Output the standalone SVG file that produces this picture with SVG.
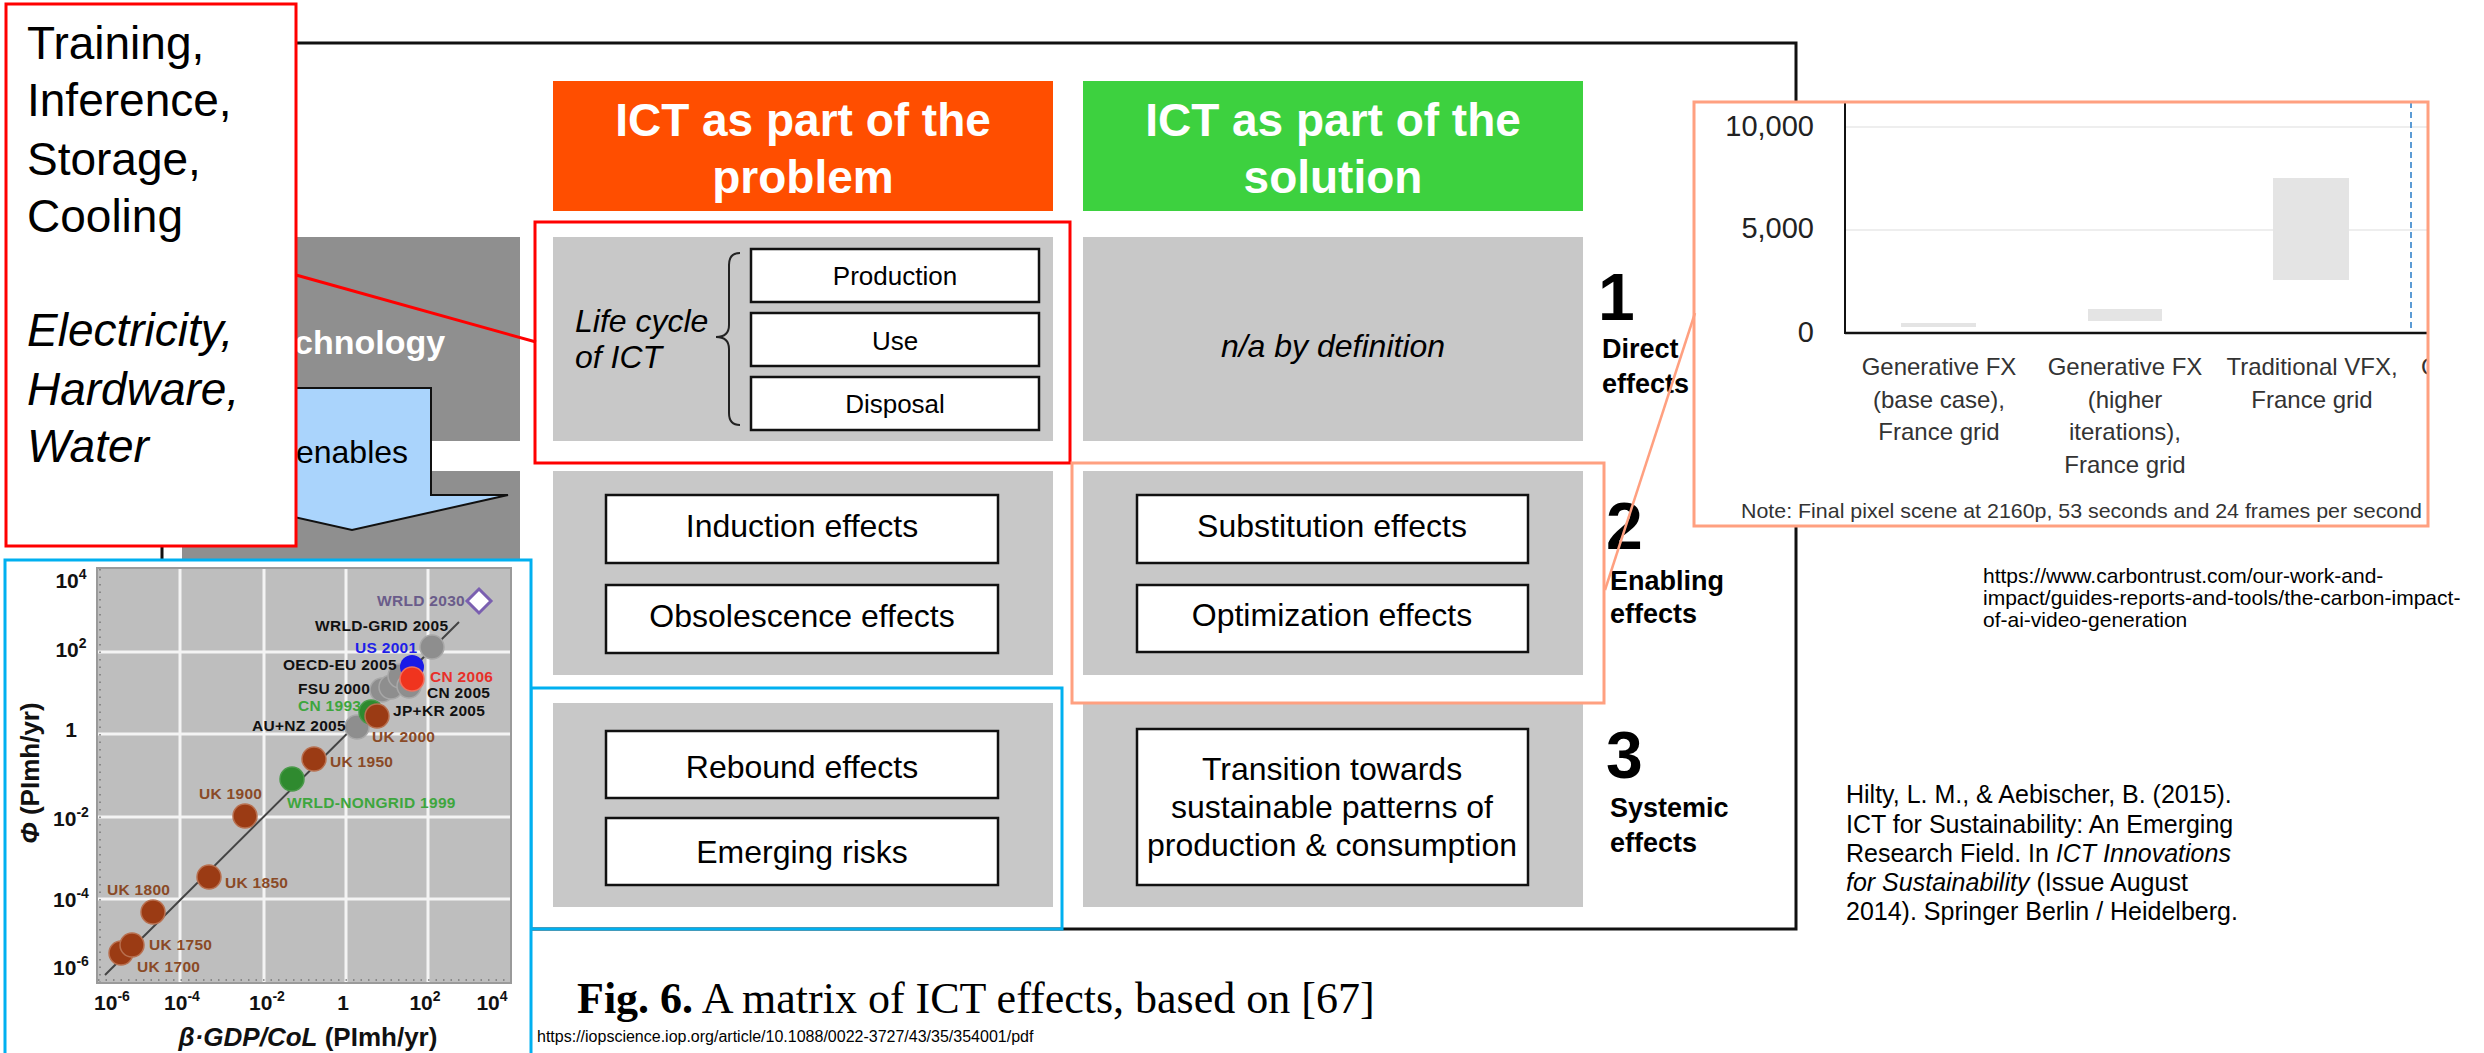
<svg xmlns="http://www.w3.org/2000/svg" width="2484" height="1053" viewBox="0 0 2484 1053">
<style>
.s{font-family:"Liberation Sans",Arial,Helvetica,sans-serif}
.b{font-weight:bold}
.i{font-style:italic}
.serif{font-family:"Liberation Serif","Times New Roman",serif}
.cell{fill:#C8C8C8}
.ibox{fill:#FFFFFF;stroke:#111111;stroke-width:2.5}
.boxt{font-family:"Liberation Sans",Arial,sans-serif;font-size:32px;fill:#000;text-anchor:middle}
.lct{font-family:"Liberation Sans",Arial,sans-serif;font-size:26px;fill:#000;text-anchor:middle}
.hdr{font-family:"Liberation Sans",Arial,sans-serif;font-size:46px;font-weight:bold;fill:#FFFFFF;text-anchor:middle}
.rown{font-family:"Liberation Sans",Arial,sans-serif;font-size:66px;font-weight:bold;fill:#000}
.rowl{font-family:"Liberation Sans",Arial,sans-serif;font-size:27px;font-weight:bold;fill:#000}
.dot{stroke-width:1.5}
.lab{font-family:"Liberation Sans",Arial,sans-serif;font-size:15.5px;font-weight:bold;letter-spacing:0.3px}
.tick{font-family:"Liberation Sans",Arial,sans-serif;font-size:21px;font-weight:bold;fill:#111}
.cat{font-family:"Liberation Sans",Arial,sans-serif;font-size:24px;fill:#333;text-anchor:middle}
.cats{font-family:"Liberation Sans",Arial,sans-serif;font-size:24px;fill:#333;text-anchor:start}
.yl{font-family:"Liberation Sans",Arial,sans-serif;font-size:29px;fill:#222;text-anchor:end}
.ref{font-family:"Liberation Sans",Arial,sans-serif;fill:#000}
</style>
<defs>
<clipPath id="barclip"><rect x="1694" y="102" width="734" height="424"/></clipPath>
</defs>

<!-- outer frame -->
<rect id="frame" x="162" y="43" width="1634" height="886" fill="none" stroke="#111" stroke-width="3"/>

<!-- headers -->
<g id="hdr-problem">
<rect x="553" y="81" width="500" height="130" fill="#FF4E00"/>
<text class="hdr" x="803" y="136">ICT as part of the</text>
<text class="hdr" x="803" y="193">problem</text>
</g>
<g id="hdr-solution">
<rect x="1083" y="81" width="500" height="130" fill="#3DD13F"/>
<text class="hdr" x="1333" y="136">ICT as part of the</text>
<text class="hdr" x="1333" y="193">solution</text>
</g>

<!-- technology column -->
<g id="technology">
<rect x="182" y="237" width="338" height="204" fill="#8F8F8F"/>
<rect x="182" y="471" width="338" height="204" fill="#8F8F8F"/>
<text class="s b" x="351" y="354" font-size="34" fill="#FFFFFF" text-anchor="middle">Technology</text>
</g>
<g id="enables-arrow">
<polygon points="273,388 431,388 431,495 508,495 352,530 196,495 273,495" fill="#AAD4FC" stroke="#111" stroke-width="2"/>
<text class="s" x="352" y="463" font-size="32" fill="#000" text-anchor="middle">enables</text>
</g>

<!-- row 1 -->
<g id="cell-lifecycle">
<rect class="cell" x="553" y="237" width="500" height="204"/>
<text class="s i" x="575" y="332" font-size="32">Life cycle</text>
<text class="s i" x="575" y="368" font-size="32">of ICT</text>
<path d="M740,253 Q729,253 729,265 L729,325 Q729,337 716,337 Q729,337 729,349 L729,413 Q729,425 740,425" fill="none" stroke="#222" stroke-width="2"/>
</g>
<g id="box-production"><rect class="ibox" x="751" y="249" width="288" height="53"/><text class="lct" x="895" y="285">Production</text></g>
<g id="box-use"><rect class="ibox" x="751" y="313" width="288" height="53"/><text class="lct" x="895" y="350">Use</text></g>
<g id="box-disposal"><rect class="ibox" x="751" y="377" width="288" height="53"/><text class="lct" x="895" y="413">Disposal</text></g>

<g id="cell-na">
<rect class="cell" x="1083" y="237" width="500" height="204"/>
<text class="s i" x="1333" y="357" font-size="32" text-anchor="middle">n/a by definition</text>
</g>

<!-- row 2 -->
<g id="cell-row2-left"><rect class="cell" x="553" y="471" width="500" height="204"/></g>
<g id="box-induction"><rect class="ibox" x="606" y="495" width="392" height="68"/><text class="boxt" x="802" y="537">Induction effects</text></g>
<g id="box-obsolescence"><rect class="ibox" x="606" y="585" width="392" height="68"/><text class="boxt" x="802" y="627">Obsolescence effects</text></g>
<g id="cell-row2-right"><rect class="cell" x="1083" y="471" width="500" height="204"/></g>
<g id="box-substitution"><rect class="ibox" x="1137" y="495" width="391" height="68"/><text class="boxt" x="1332" y="537">Substitution effects</text></g>
<g id="box-optimization"><rect class="ibox" x="1137" y="585" width="391" height="67"/><text class="boxt" x="1332" y="626">Optimization effects</text></g>

<!-- row 3 -->
<g id="cell-row3-left"><rect class="cell" x="553" y="703" width="500" height="204"/></g>
<g id="box-rebound"><rect class="ibox" x="606" y="731" width="392" height="67"/><text class="boxt" x="802" y="778">Rebound effects</text></g>
<g id="box-emerging"><rect class="ibox" x="606" y="818" width="392" height="67"/><text class="boxt" x="802" y="863">Emerging risks</text></g>
<g id="cell-row3-right"><rect class="cell" x="1083" y="703" width="500" height="204"/></g>
<g id="box-transition"><rect class="ibox" x="1137" y="729" width="391" height="156"/>
<text class="boxt" x="1332" y="780">Transition towards</text>
<text class="boxt" x="1332" y="818">sustainable patterns of</text>
<text class="boxt" x="1332" y="856">production &amp; consumption</text></g>

<!-- row labels -->
<g id="label-direct"><text class="rown" x="1598" y="320">1</text><text class="rowl" x="1602" y="358">Direct</text><text class="rowl" x="1602" y="393">effects</text></g>
<g id="label-enabling"><text class="rown" x="1606" y="549">2</text><text class="rowl" x="1610" y="590">Enabling</text><text class="rowl" x="1610" y="623">effects</text></g>
<g id="label-systemic"><text class="rown" x="1606" y="778">3</text><text class="rowl" x="1610" y="817">Systemic</text><text class="rowl" x="1610" y="852">effects</text></g>

<!-- highlight frames -->
<rect id="hl-red" x="535" y="222" width="535" height="241" fill="none" stroke="#FF0000" stroke-width="3"/>
<rect id="hl-salmon" x="1072" y="463" width="532" height="240" fill="none" stroke="#FFA080" stroke-width="3"/>
<rect id="hl-blue" x="531" y="688" width="531" height="241" fill="none" stroke="#00B0F0" stroke-width="3"/>

<!-- scatter chart -->
<g id="scatter-chart">
<rect x="5" y="560" width="526" height="500" fill="#FFFFFF" stroke="#00B0F0" stroke-width="3"/>
<rect x="97" y="568" width="414" height="415" fill="#BEBEBE" stroke="#9A9A9A" stroke-width="2"/>
<g stroke="#F4F4F4" stroke-width="3">
<line x1="180" y1="569" x2="180" y2="982"/><line x1="264" y1="569" x2="264" y2="982"/>
<line x1="346" y1="569" x2="346" y2="982"/><line x1="428" y1="569" x2="428" y2="982"/>
<line x1="98" y1="652" x2="510" y2="652"/><line x1="98" y1="734" x2="510" y2="734"/>
<line x1="98" y1="817" x2="510" y2="817"/><line x1="98" y1="899" x2="510" y2="899"/>
</g>
<g stroke="#777" stroke-width="1.5">
<line x1="98" y1="980" x2="510" y2="980" stroke-dasharray="1.5 6"/>
<line x1="100" y1="569" x2="100" y2="982" stroke-dasharray="1.5 6"/>
</g>
<line x1="105" y1="975" x2="459" y2="622" stroke="#444" stroke-width="2"/>
<g class="dot" stroke="#A8A8A8">
<circle cx="357" cy="727" r="12" fill="#8E8E8E"/>
<circle cx="382" cy="690" r="12" fill="#8E8E8E"/>
<circle cx="391" cy="687" r="12" fill="#8E8E8E"/>
<circle cx="400" cy="676" r="12" fill="#8E8E8E"/>
<circle cx="409" cy="686" r="12" fill="#8E8E8E"/>
<circle cx="432" cy="647" r="12" fill="#8E8E8E"/>
</g>
<circle cx="412" cy="667" r="12" fill="#1A1AE6"/>
<circle cx="412" cy="679" r="12" fill="#F0341E" stroke="#F07060" stroke-width="1.5"/>
<g class="dot" stroke="#4A9A4A">
<circle cx="292" cy="779" r="12" fill="#2F8A2F"/>
<circle cx="371" cy="712" r="12" fill="#2F8A2F"/>
</g>
<g class="dot" stroke="#B87050">
<circle cx="121" cy="953" r="12" fill="#9B3B14"/>
<circle cx="132" cy="945" r="12" fill="#9B3B14"/>
<circle cx="153" cy="912" r="12" fill="#9B3B14"/>
<circle cx="209" cy="877" r="12" fill="#9B3B14"/>
<circle cx="245" cy="816" r="12" fill="#9B3B14"/>
<circle cx="314" cy="759" r="12" fill="#9B3B14"/>
<circle cx="377" cy="716" r="12" fill="#9B3B14"/>
</g>
<polygon points="479,589 491,601 479,613 467,601" fill="#FFFFFF" stroke="#7A5FB0" stroke-width="3"/>
<text class="lab" x="377" y="606" fill="#6A5C8A">WRLD 2030</text>
<text class="lab" x="315" y="631" fill="#111">WRLD-GRID 2005</text>
<text class="lab" x="355" y="653" fill="#1F1FE8">US 2001</text>
<text class="lab" x="283" y="670" fill="#111">OECD-EU 2005</text>
<text class="lab" x="430" y="682" fill="#E8302A">CN 2006</text>
<text class="lab" x="298" y="694" fill="#111">FSU 2000</text>
<text class="lab" x="427" y="698" fill="#111">CN 2005</text>
<text class="lab" x="298" y="711" fill="#3EA63E">CN 1993</text>
<text class="lab" x="393" y="716" fill="#111">JP+KR 2005</text>
<text class="lab" x="252" y="731" fill="#111">AU+NZ 2005</text>
<text class="lab" x="372" y="742" fill="#8A4A26">UK 2000</text>
<text class="lab" x="330" y="767" fill="#8A4A26">UK 1950</text>
<text class="lab" x="199" y="799" fill="#8A4A26">UK 1900</text>
<text class="lab" x="287" y="808" fill="#3EA63E">WRLD-NONGRID 1999</text>
<text class="lab" x="225" y="888" fill="#8A4A26">UK 1850</text>
<text class="lab" x="107" y="895" fill="#8A4A26">UK 1800</text>
<text class="lab" x="149" y="950" fill="#8A4A26">UK 1750</text>
<text class="lab" x="137" y="972" fill="#8A4A26">UK 1700</text>
<g class="tick" text-anchor="middle">
<text x="71" y="588">10<tspan font-size="14" dy="-9">4</tspan></text>
<text x="71" y="657">10<tspan font-size="14" dy="-9">2</tspan></text>
<text x="71" y="737">1</text>
<text x="71" y="826">10<tspan font-size="14" dy="-9">-2</tspan></text>
<text x="71" y="907">10<tspan font-size="14" dy="-9">-4</tspan></text>
<text x="71" y="975">10<tspan font-size="14" dy="-9">-6</tspan></text>
<text x="112" y="1010">10<tspan font-size="14" dy="-9">-6</tspan></text>
<text x="182" y="1010">10<tspan font-size="14" dy="-9">-4</tspan></text>
<text x="267" y="1010">10<tspan font-size="14" dy="-9">-2</tspan></text>
<text x="343" y="1010">1</text>
<text x="425" y="1010">10<tspan font-size="14" dy="-9">2</tspan></text>
<text x="492" y="1010">10<tspan font-size="14" dy="-9">4</tspan></text>
</g>
<text class="s b" font-size="26" fill="#111" text-anchor="middle" transform="translate(39,773) rotate(-90)"><tspan font-style="italic">Φ</tspan> (PImh/yr)</text>
<text class="s b" x="308" y="1046" font-size="26" fill="#111" text-anchor="middle"><tspan font-style="italic">β·GDP/CoL</tspan> (PImh/yr)</text>
</g>

<!-- bar chart -->
<g id="bar-chart">
<rect x="1694" y="102" width="734" height="424" fill="#FFFFFF"/>
<g clip-path="url(#barclip)">
<line x1="1845" y1="127" x2="2428" y2="127" stroke="#EEEEEE" stroke-width="2"/>
<line x1="1845" y1="230" x2="2428" y2="230" stroke="#EEEEEE" stroke-width="2"/>
<rect x="1901" y="323" width="75" height="4" fill="#E4E4E4"/>
<rect x="2088" y="309" width="74" height="12" fill="#E4E4E4"/>
<rect x="2273" y="178" width="76" height="102" fill="#E4E4E4"/>
<line x1="2411" y1="102" x2="2411" y2="333" stroke="#5B9BD5" stroke-width="2" stroke-dasharray="6 4"/>
<line x1="1845" y1="102" x2="1845" y2="334" stroke="#111" stroke-width="2"/>
<line x1="1845" y1="333" x2="2428" y2="333" stroke="#111" stroke-width="2.5"/>
<text class="yl" x="1814" y="136">10,000</text>
<text class="yl" x="1814" y="238">5,000</text>
<text class="yl" x="1814" y="342">0</text>
<text class="cat" x="1939" y="375">Generative FX</text>
<text class="cat" x="1939" y="408">(base case),</text>
<text class="cat" x="1939" y="440">France grid</text>
<text class="cat" x="2125" y="375">Generative FX</text>
<text class="cat" x="2125" y="408">(higher</text>
<text class="cat" x="2125" y="440">iterations),</text>
<text class="cat" x="2125" y="473">France grid</text>
<text class="cat" x="2312" y="375">Traditional VFX,</text>
<text class="cat" x="2312" y="408">France grid</text>
<text class="cats" x="2421" y="375">G</text>
<text class="s" x="1741" y="518" font-size="21" fill="#333" textLength="681" lengthAdjust="spacingAndGlyphs">Note: Final pixel scene at 2160p, 53 seconds and 24 frames per second</text>
</g>
<rect x="1694" y="102" width="734" height="424" fill="none" stroke="#FFA080" stroke-width="3"/>
</g>

<!-- connectors -->
<g id="connectors">
<line x1="296" y1="275" x2="536" y2="342" stroke="#FF0000" stroke-width="3"/>
<line x1="1605" y1="590" x2="1695" y2="313" stroke="#FFA080" stroke-width="2.5"/>
</g>

<!-- callout -->
<g id="callout">
<rect x="6" y="4" width="290" height="542" fill="#FFFFFF" stroke="#FF0000" stroke-width="3"/>
<g class="s" font-size="46" fill="#000">
<text x="27" y="59">Training,</text>
<text x="27" y="116">Inference,</text>
<text x="27" y="175">Storage,</text>
<text x="27" y="232">Cooling</text>
<text x="27" y="346" font-style="italic">Electricity,</text>
<text x="27" y="405" font-style="italic">Hardware,</text>
<text x="27" y="462" font-style="italic">Water</text>
</g>
</g>

<!-- references -->
<g id="ref-carbontrust" class="ref" font-size="21">
<text x="1983" y="583">https://www.carbontrust.com/our-work-and-</text>
<text x="1983" y="605">impact/guides-reports-and-tools/the-carbon-impact-</text>
<text x="1983" y="627">of-ai-video-generation</text>
</g>
<g id="ref-hilty" class="ref" font-size="25">
<text x="1846" y="803">Hilty, L. M., &amp; Aebischer, B. (2015).</text>
<text x="1846" y="833">ICT for Sustainability: An Emerging</text>
<text x="1846" y="862">Research Field. In <tspan font-style="italic">ICT Innovations</tspan></text>
<text x="1846" y="891"><tspan font-style="italic">for Sustainability</tspan> (Issue August</text>
<text x="1846" y="920">2014). Springer Berlin / Heidelberg.</text>
</g>
<g id="caption">
<text class="serif" x="577" y="1013" font-size="44" fill="#000"><tspan font-weight="bold">Fig. 6.</tspan> A matrix of ICT effects, based on [67]</text>
<text class="s" x="537" y="1042" font-size="16" fill="#000">https://iopscience.iop.org/article/10.1088/0022-3727/43/35/354001/pdf</text>
</g>
</svg>
